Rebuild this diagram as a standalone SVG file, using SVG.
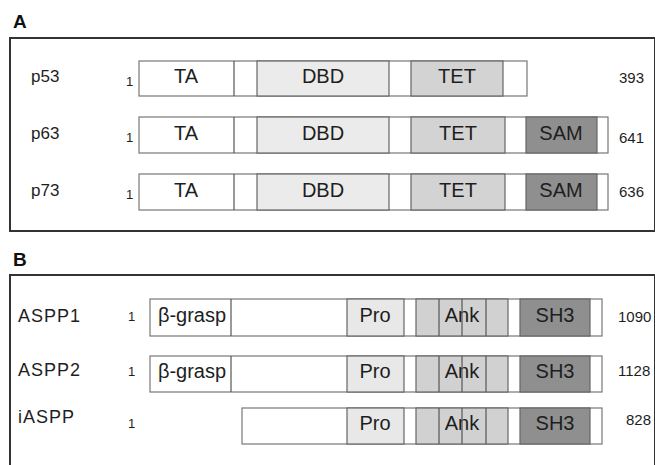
<svg xmlns="http://www.w3.org/2000/svg" width="655" height="465" viewBox="0 0 655 465">
<style>
text{font-family:"Liberation Sans",Arial,sans-serif;fill:#1e1e1e}
.pl{font-size:19px;font-weight:bold;fill:#111}
.nm{font-size:17px}
.nmb{font-size:18px;letter-spacing:1px}
.one{font-size:13px}
.end{font-size:15px}
.dl{font-size:20px;text-anchor:middle}
.panel{fill:#fff;stroke:#333;stroke-width:2}
.bar{fill:#fff;stroke:#777;stroke-width:1.2}
.seg{stroke:#555;stroke-width:1.2}
.dbd{fill:#ebebeb;stroke:#666;stroke-width:1.2}
.tet{fill:#d3d3d3;stroke:#666;stroke-width:1.2}
.sam{fill:#8f8f8f;stroke:#666;stroke-width:1.2}
.pro{fill:#e8e8e8;stroke:#666;stroke-width:1.2}
.ank{fill:#d1d1d1;stroke:#666;stroke-width:1.2}
.sh3{fill:#8f8f8f;stroke:#666;stroke-width:1.2}
</style>
<rect width="655" height="465" fill="#fff"/>
<g id="panelA">
<text class="pl" x="13" y="28">A</text>
<rect class="panel" x="10" y="38" width="645" height="193"/>
</g>
<g id="panelB">
<text class="pl" x="13" y="266">B</text>
<rect class="panel" x="10" y="275" width="645" height="200"/>
</g>
<g id="p53">
<text class="nm" x="31" y="82">p53</text>
<text class="one" x="126" y="86">1</text>
<rect class="bar" x="139" y="61" width="388" height="35"/>
<line class="seg" x1="234" y1="61" x2="234" y2="96"/>
<rect class="dbd" x="257" y="61" width="132" height="35"/>
<rect class="tet" x="411" y="61" width="92" height="35"/>
<text class="dl" x="186" y="83">TA</text>
<text class="dl" x="323" y="83">DBD</text>
<text class="dl" x="457" y="83">TET</text>
<text class="end" x="619" y="83">393</text>
</g>
<g id="p63">
<text class="nm" x="31" y="139">p63</text>
<text class="one" x="126" y="142">1</text>
<rect class="bar" x="139" y="117" width="469" height="36"/>
<line class="seg" x1="234" y1="117" x2="234" y2="153"/>
<rect class="dbd" x="257" y="117" width="132" height="36"/>
<rect class="tet" x="411" y="117" width="94" height="36"/>
<rect class="sam" x="526" y="117" width="71" height="36"/>
<text class="dl" x="186" y="140">TA</text>
<text class="dl" x="323" y="140">DBD</text>
<text class="dl" x="458" y="140">TET</text>
<text class="dl" x="561" y="140">SAM</text>
<text class="end" x="619" y="143">641</text>
</g>
<g id="p73">
<text class="nm" x="31" y="196">p73</text>
<text class="one" x="126" y="199">1</text>
<rect class="bar" x="139" y="174" width="469" height="36"/>
<line class="seg" x1="234" y1="174" x2="234" y2="210"/>
<rect class="dbd" x="257" y="174" width="132" height="36"/>
<rect class="tet" x="411" y="174" width="94" height="36"/>
<rect class="sam" x="526" y="174" width="71" height="36"/>
<text class="dl" x="186" y="197">TA</text>
<text class="dl" x="323" y="197">DBD</text>
<text class="dl" x="458" y="197">TET</text>
<text class="dl" x="561" y="197">SAM</text>
<text class="end" x="619" y="197">636</text>
</g>
<g id="ASPP1">
<text class="nmb" x="18" y="322">ASPP1</text>
<text class="one" x="128" y="321">1</text>
<rect class="bar" x="150" y="299" width="452" height="37"/>
<line class="seg" x1="231" y1="299" x2="231" y2="336"/>
<rect class="pro" x="347" y="299" width="57" height="37"/>
<rect class="ank" x="416" y="299" width="92" height="37"/>
<line class="seg" x1="439" y1="299" x2="439" y2="336"/>
<line class="seg" x1="486" y1="299" x2="486" y2="336"/>
<rect class="sh3" x="520" y="299" width="70" height="37"/>
<text class="dl" x="192" y="322">β-grasp</text>
<text class="dl" x="375" y="322">Pro</text>
<text class="dl" x="462" y="322">Ank</text>
<line class="seg" x1="462" y1="299" x2="462" y2="336"/>
<text class="dl" x="555" y="322">SH3</text>
<text class="end" x="618" y="322">1090</text>
</g>
<g id="ASPP2">
<text class="nmb" x="18" y="376">ASPP2</text>
<text class="one" x="128" y="376">1</text>
<rect class="bar" x="150" y="356" width="452" height="36"/>
<line class="seg" x1="231" y1="356" x2="231" y2="392"/>
<rect class="pro" x="347" y="356" width="57" height="36"/>
<rect class="ank" x="416" y="356" width="92" height="36"/>
<line class="seg" x1="439" y1="356" x2="439" y2="392"/>
<line class="seg" x1="486" y1="356" x2="486" y2="392"/>
<rect class="sh3" x="520" y="356" width="70" height="36"/>
<text class="dl" x="192" y="378">β-grasp</text>
<text class="dl" x="375" y="378">Pro</text>
<text class="dl" x="462" y="378">Ank</text>
<line class="seg" x1="462" y1="356" x2="462" y2="392"/>
<text class="dl" x="555" y="378">SH3</text>
<text class="end" x="618" y="376">1128</text>
</g>
<g id="iASPP">
<text class="nmb" x="18" y="423">iASPP</text>
<text class="one" x="128" y="428">1</text>
<rect class="bar" x="242" y="408" width="360" height="36"/>
<rect class="pro" x="347" y="408" width="57" height="36"/>
<rect class="ank" x="416" y="408" width="92" height="36"/>
<line class="seg" x1="439" y1="408" x2="439" y2="444"/>
<line class="seg" x1="486" y1="408" x2="486" y2="444"/>
<rect class="sh3" x="520" y="408" width="70" height="36"/>
<text class="dl" x="375" y="430">Pro</text>
<text class="dl" x="462" y="430">Ank</text>
<line class="seg" x1="462" y1="408" x2="462" y2="444"/>
<text class="dl" x="555" y="430">SH3</text>
<text class="end" x="626" y="425">828</text>
</g>
<g id="connectors"/>
</svg>
